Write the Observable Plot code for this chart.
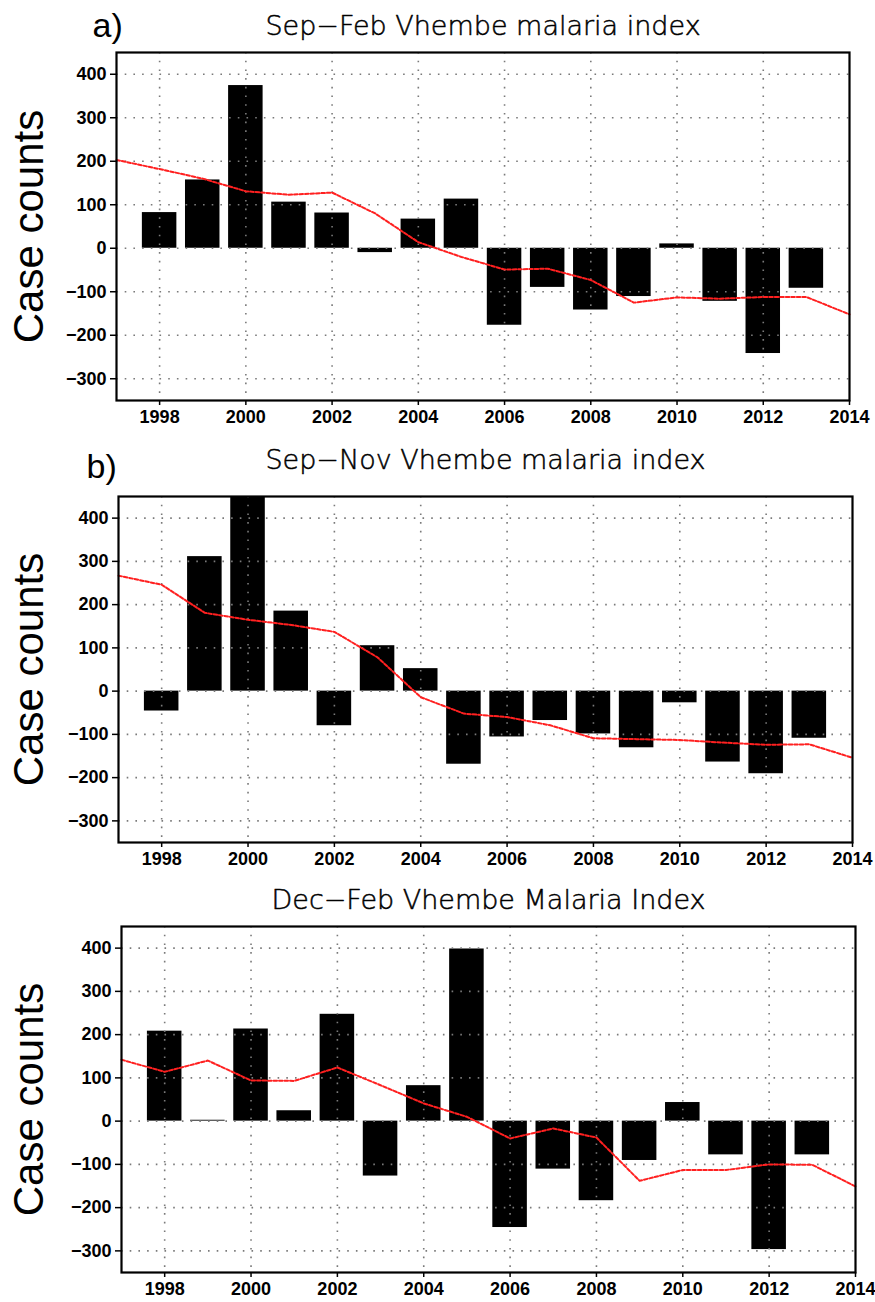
<!DOCTYPE html>
<html>
<head>
<meta charset="utf-8">
<script src="https://cdn.jsdelivr.net/npm/d3@7"></script>
<script src="https://cdn.jsdelivr.net/npm/@observablehq/plot@0.6"></script>
<style>
  html, body { margin: 0; padding: 0; background: #fff; }
  #wrap { width: 875px; height: 1302px; }
  #wrap svg { display: block; }
</style>
</head>
<body>
<div id="wrap"></div>
<script>
// ---- data ----
const years = [1998, 1999, 2000, 2001, 2002, 2003, 2004, 2005, 2006, 2007, 2008, 2009, 2010, 2011, 2012, 2013];
const trendYears = [1997, 1998, 1999, 2000, 2001, 2002, 2003, 2004, 2005, 2006, 2007, 2008, 2009, 2010, 2011, 2012, 2013, 2014];

const sepFeb      = [82, 157, 374, 106, 81, -10, 67, 113, -177, -90, -142, -111, 10, -122, -242, -92];
const sepFebTrend = [203, 182, 160, 131, 123, 128, 80, 14, -20, -49, -47, -73, -125, -113, -116, -112, -112, -152];

const sepNov      = [-46, 311, 470, 185, -80, 105, 52, -169, -106, -68, -99, -131, -27, -164, -191, -109];
const sepNovTrend = [267, 246, 181, 165, 153, 137, 78, -14, -52, -60, -79, -109, -111, -113, -119, -124, -123, -154];

const decFeb      = [208, 2, 213, 24, 247, -127, 82, 398, -246, -111, -184, -91, 43, -78, -297, -78];
const decFebTrend = [142, 114, 140, 94, 93, 124, 83, 41, 10, -40, -17, -38, -138, -113, -113, -100, -101, -151];

const yTicks = [-300, -200, -100, 0, 100, 200, 300, 400];
const xTicks = [1998, 2000, 2002, 2004, 2006, 2008, 2010, 2012, 2014];
const xGridTicks = [1998, 2000, 2002, 2004, 2006, 2008, 2010, 2012];

const titles = ["Sep−Feb Vhembe malaria index", "Sep−Nov Vhembe malaria index", "Dec−Feb Vhembe Malaria Index"];
const panelTags = ["a)", "b)", null];
const yLabel = "Case counts";

// ---- panel builder ----
function panel(cfg) {
  const bars = years.map((y, i) => ({year: y, v: cfg.bars[i]}));
  const trend = trendYears.map((y, i) => ({year: y, v: cfg.trend[i]}));
  const marks = [
    Plot.rectY(bars, {x1: d => d.year - 0.4, x2: d => d.year + 0.4, y1: 0, y2: "v", fill: "black", clip: true}),
    Plot.gridY(yTicks, {stroke: "#7a7a7a", strokeOpacity: 1, strokeWidth: 1.6, strokeDasharray: "1.6,7.1"}),
    Plot.gridX(xGridTicks, {stroke: "#7a7a7a", strokeOpacity: 1, strokeWidth: 1.6, strokeDasharray: "1.6,7.1"}),
    Plot.line(trend, {x: "year", y: "v", stroke: "#ff2020", strokeWidth: 2, strokeDasharray: "3.5,2"}),
    Plot.frame({stroke: "black", strokeWidth: 2.2}),
    Plot.axisX({ticks: xTicks, tickFormat: d => String(d), tickSize: 5, tickPadding: 5, fontSize: 18, fontWeight: "bold", strokeWidth: 1.5}),
    Plot.axisY({ticks: yTicks, tickSize: 6, tickPadding: 4, fontSize: 18, fontWeight: "bold", strokeWidth: 1.5}),
    Plot.text([cfg.title], {frameAnchor: "top", dy: cfg.titleDy, textAnchor: "middle", lineAnchor: "bottom", fontSize: 27, fontWeight: 200, fontFamily: "DejaVu Sans", fill: "black", stroke: "black", strokeWidth: 0.5}),
    Plot.text([yLabel], {frameAnchor: "left", dx: cfg.labelDx, rotate: -90, textAnchor: "middle", lineAnchor: "middle", fontSize: 42, fontWeight: "normal", fontFamily: "Liberation Sans", fill: "black"})
  ];
  if (cfg.tag) {
    marks.push(Plot.text([cfg.tag], {frameAnchor: "top-left", dx: cfg.tagDx, dy: cfg.tagDy, textAnchor: "start", lineAnchor: "bottom", fontSize: 34, fontWeight: "normal", fontFamily: "Liberation Sans", fill: "black"}));
  }
  return Plot.plot({
    width: 875,
    height: cfg.height,
    marginTop: cfg.marginTop,
    marginBottom: 30,
    marginLeft: cfg.marginLeft,
    marginRight: cfg.marginRight,
    style: {fontFamily: "Liberation Sans, Arial, sans-serif", color: "black", background: "white", overflow: "visible"},
    x: {domain: [1997, 2014], label: null},
    y: {domain: [-350, 450], label: null},
    marks
  });
}

const wrap = document.getElementById("wrap");
wrap.appendChild(panel({bars: sepFeb, trend: sepFebTrend, title: titles[0], tag: panelTags[0],
  height: 430, marginTop: 52, marginLeft: 116, marginRight: 26, titleDy: -18, labelDx: -87, tagDx: -24, tagDy: -16}));
wrap.appendChild(panel({bars: sepNov, trend: sepNovTrend, title: titles[1], tag: panelTags[1],
  height: 442, marginTop: 66, marginLeft: 118, marginRight: 23, titleDy: -28, labelDx: -89, tagDx: -32, tagDy: -19}));
wrap.appendChild(panel({bars: decFeb, trend: decFebTrend, title: titles[2], tag: panelTags[2],
  height: 430, marginTop: 54, marginLeft: 121, marginRight: 20, titleDy: -18, labelDx: -92}));
</script>
</body>
</html>
